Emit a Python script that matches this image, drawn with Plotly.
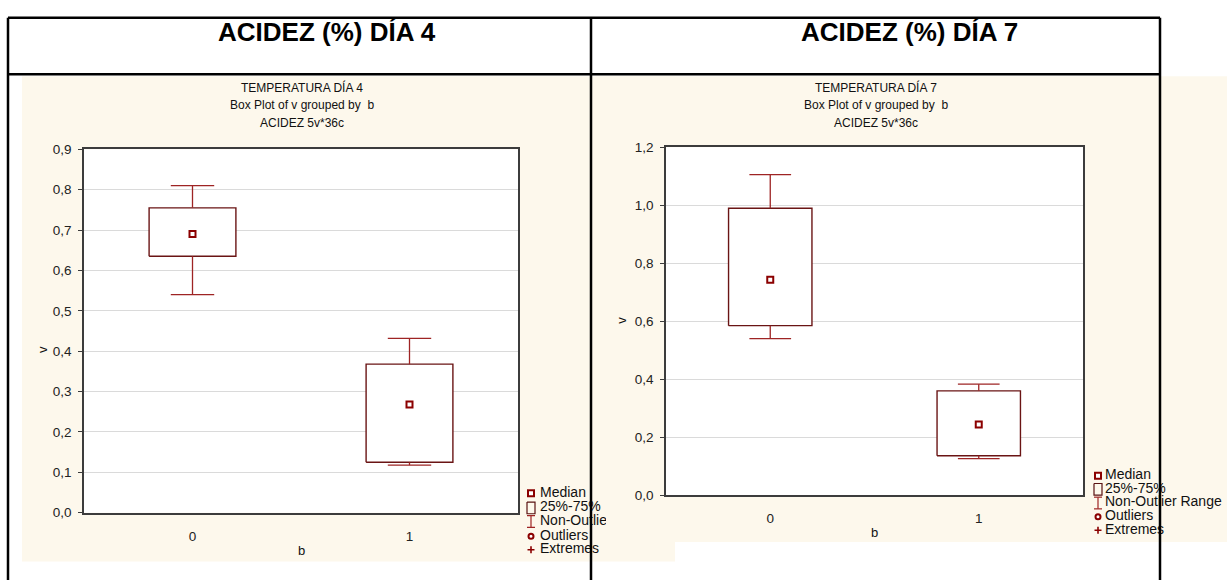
import plotly.graph_objects as go

# ---- data -------------------------------------------------------------
categories = ["0", "1"]

# Day 4 acidity (v) grouped by b
d4_low = [0.540, 0.118]
d4_q1 = [0.635, 0.125]
d4_median = [0.690, 0.268]
d4_q3 = [0.755, 0.368]
d4_high = [0.810, 0.432]

# Day 7 acidity (v) grouped by b
d7_low = [0.540, 0.126]
d7_q1 = [0.585, 0.136]
d7_median = [0.743, 0.244]
d7_q3 = [0.990, 0.360]
d7_high = [1.106, 0.383]

legend_labels = ["Median", "25%-75%", "Non-Outlier Range", "Outliers", "Extremes"]

# ---- page geometry (pixels) -----------------------------------------
W, H = 1227, 588
FONT = "Liberation Sans, Arial, sans-serif"
CREAM = "#FDF8EC"
BOX_LINE = "#6a1414"
WHISK = "#9e2424"
MED = "#8b0000"


def px(x):
    return x / W


def py(y):
    return 1 - y / H


fig = go.Figure()

BOX_HALF = 0.2   # half box width in category units
CAP_HALF = 0.1   # half whisker-cap width


def add_boxes(xa, ya, low, q1, med, q3, high):
    for i in range(len(categories)):
        # box 25%-75%
        fig.add_trace(go.Scatter(
            x=[i - BOX_HALF, i + BOX_HALF, i + BOX_HALF, i - BOX_HALF, i - BOX_HALF],
            y=[q1[i], q1[i], q3[i], q3[i], q1[i]],
            mode="lines", fill="toself", fillcolor="white",
            line=dict(color=BOX_LINE, width=1.4),
            xaxis=xa, yaxis=ya, hoverinfo="skip"))
        # whiskers
        fig.add_trace(go.Scatter(
            x=[i, i, None, i, i, None,
               i - CAP_HALF, i + CAP_HALF, None, i - CAP_HALF, i + CAP_HALF],
            y=[q3[i], high[i], None, q1[i], low[i], None,
               high[i], high[i], None, low[i], low[i]],
            mode="lines", line=dict(color=WHISK, width=1.3),
            xaxis=xa, yaxis=ya, hoverinfo="skip"))
        # median point
        fig.add_trace(go.Scatter(
            x=[i], y=[med[i]], mode="markers",
            marker=dict(symbol="square", size=6, color="white",
                        line=dict(color=MED, width=2)),
            xaxis=xa, yaxis=ya, hoverinfo="skip"))


add_boxes("x", "y", d4_low, d4_q1, d4_median, d4_q3, d4_high)
add_boxes("x2", "y2", d7_low, d7_q1, d7_median, d7_q3, d7_high)


# ---- legends (drawn in pixel-unit helper axes so text can be clipped) ----
def add_legend(xa, ya, sx, tx, rows):
    # median marker
    fig.add_trace(go.Scatter(
        x=[sx], y=[rows[0]], mode="markers",
        marker=dict(symbol="square", size=6, color="white",
                    line=dict(color=MED, width=2)),
        xaxis=xa, yaxis=ya, hoverinfo="skip"))
    # box glyph
    y1 = rows[1]
    fig.add_trace(go.Scatter(
        x=[sx - 4, sx + 4, sx + 4, sx - 4, sx - 4],
        y=[y1 - 6, y1 - 6, y1 + 6, y1 + 6, y1 - 6],
        mode="lines", line=dict(color="#5a1212", width=1.2),
        xaxis=xa, yaxis=ya, hoverinfo="skip"))
    # whisker glyph
    y2 = rows[2]
    fig.add_trace(go.Scatter(
        x=[sx, sx, None, sx - 4, sx + 4, None, sx - 4, sx + 4],
        y=[y2 - 6, y2 + 6, None, y2 - 6, y2 - 6, None, y2 + 6, y2 + 6],
        mode="lines", line=dict(color=WHISK, width=1.2),
        xaxis=xa, yaxis=ya, hoverinfo="skip"))
    # outlier glyph
    fig.add_trace(go.Scatter(
        x=[sx], y=[rows[3]], mode="markers",
        marker=dict(symbol="circle", size=5, color="white",
                    line=dict(color=MED, width=2)),
        xaxis=xa, yaxis=ya, hoverinfo="skip"))
    # extreme glyph
    fig.add_trace(go.Scatter(
        x=[sx], y=[rows[4]], mode="markers",
        marker=dict(symbol="cross-thin", size=5,
                    line=dict(color=MED, width=1.6)),
        xaxis=xa, yaxis=ya, hoverinfo="skip"))
    # labels
    fig.add_trace(go.Scatter(
        x=[tx] * len(legend_labels), y=rows, mode="text",
        text=legend_labels, textposition="middle right",
        textfont=dict(family=FONT, size=14, color="#111"),
        cliponaxis=True, xaxis=xa, yaxis=ya, hoverinfo="skip"))


add_legend("x3", "y3", 531, 540, [499, 514, 528, 543, 557])
add_legend("x4", "y4", 1098, 1105, [481, 495, 509, 523, 537])

# ---- axes -----------------------------------------------------------
tick_font = dict(family=FONT, size=13.5, color="#222")


def xaxis_cfg(x0, x1):
    return dict(domain=[px(x0), px(x1)], range=[-0.5, 1.5],
                tickvals=list(range(len(categories))), ticktext=categories,
                showgrid=False, zeroline=False, showline=True, mirror=True,
                linecolor="#3c3c3c", linewidth=1.5, ticks="", tickfont=tick_font,
                ticklabelstandoff=10, fixedrange=True)


def yaxis_cfg(y0, y1, top, step):
    return dict(domain=[py(y1), py(y0)], range=[0, top], dtick=step,
                tickformat=".1f", showgrid=True, gridcolor="#dadada", gridwidth=1,
                zeroline=False, showline=True, mirror=True,
                linecolor="#3c3c3c", linewidth=1.5, ticks="outside",
                ticklen=4, tickcolor="#3c3c3c", tickfont=tick_font,
                ticklabelstandoff=4, fixedrange=True)


def helper_axes(x0, x1, y0, y1):
    xa = dict(domain=[px(x0), px(x1)], range=[x0, x1], visible=False,
              fixedrange=True)
    ya = dict(domain=[py(y1), py(y0)], range=[y1, y0], visible=False,
              fixedrange=True)
    return xa, ya


x3, y3 = helper_axes(520, 606, 485, 572)
x4, y4 = helper_axes(1085, 1227, 468, 552)
x3["anchor"], y3["anchor"] = "y3", "x3"
x4["anchor"], y4["anchor"] = "y4", "x4"

L_X0, L_X1, L_Y0, L_Y1 = 84, 518, 146, 519
R_X0, R_X1, R_Y0, R_Y1 = 666, 1083, 144, 501

xa1 = xaxis_cfg(L_X0, L_X1); xa1["anchor"] = "y"
ya1 = yaxis_cfg(L_Y0, L_Y1, 0.9, 0.1); ya1["anchor"] = "x"
xa2 = xaxis_cfg(R_X0, R_X1); xa2["anchor"] = "y2"
ya2 = yaxis_cfg(R_Y0, R_Y1, 1.2, 0.2); ya2["anchor"] = "x2"

# ---- background panels and table frame ---------------------------------
shapes = [
    dict(type="rect", xref="paper", yref="paper", layer="below",
         x0=px(22), x1=px(675), y0=py(569), y1=py(71),
         fillcolor=CREAM, line=dict(width=0)),
    dict(type="rect", xref="paper", yref="paper", layer="below",
         x0=px(596), x1=px(1227), y0=py(549), y1=py(71),
         fillcolor=CREAM, line=dict(width=0)),
    dict(type="rect", xref="paper", yref="paper", layer="below",
         x0=px(L_X0), x1=px(L_X1), y0=py(L_Y1), y1=py(L_Y0),
         fillcolor="white", line=dict(width=0)),
    dict(type="rect", xref="paper", yref="paper", layer="below",
         x0=px(R_X0), x1=px(R_X1), y0=py(R_Y1), y1=py(R_Y0),
         fillcolor="white", line=dict(width=0)),
]
frame = dict(color="black", width=2.5)
for (a, b, c, d) in [(8, 11, 1160, 11), (8, 69, 1160, 69),
                     (8, 11, 8, 588), (591, 11, 591, 588), (1160, 11, 1160, 588)]:
    shapes.append(dict(type="line", xref="paper", yref="paper", layer="above",
                       x0=px(a), y0=py(b), x1=px(c), y1=py(d), line=frame))

# ---- text -------------------------------------------------------------
ann = []


def text(x, y, s, size, bold=False, angle=0, color="#111"):
    ann.append(dict(x=px(x), y=py(y), xref="paper", yref="paper", text=s,
                    showarrow=False, textangle=angle,
                    xanchor="center", yanchor="middle",
                    font=dict(family=FONT, size=size, color=color,
                              weight="bold" if bold else "normal")))


text(327, 26, "ACIDEZ (%) DÍA 4", 26, bold=True, color="black")
text(909, 26, "ACIDEZ (%) DÍA 7", 26, bold=True, color="black")

for cx, day in [(302, "4"), (876, "7")]:
    text(cx, 83, f"TEMPERATURA DÍA {day}", 12)
    text(cx, 101, "Box Plot of v grouped by  b", 12)
    text(cx, 119, "ACIDEZ 5v*36c", 12)

text(42, 352, "v", 13, angle=-90)
text(622, 322, "v", 13, angle=-90)
text((L_X0 + L_X1) / 2, 558, "b", 13)
text((R_X0 + R_X1) / 2, 539, "b", 13)

fig.update_layout(
    width=W, height=H, autosize=False,
    margin=dict(l=0, r=0, t=0, b=0, pad=0),
    paper_bgcolor="white", plot_bgcolor="rgba(0,0,0,0)",
    showlegend=False, separators=", ",
    xaxis=xa1, yaxis=ya1, xaxis2=xa2, yaxis2=ya2,
    xaxis3=x3, yaxis3=y3, xaxis4=x4, yaxis4=y4,
    shapes=shapes, annotations=ann,
    font=dict(family=FONT),
)

fig.write_html("out.html", config=dict(displayModeBar=False))
